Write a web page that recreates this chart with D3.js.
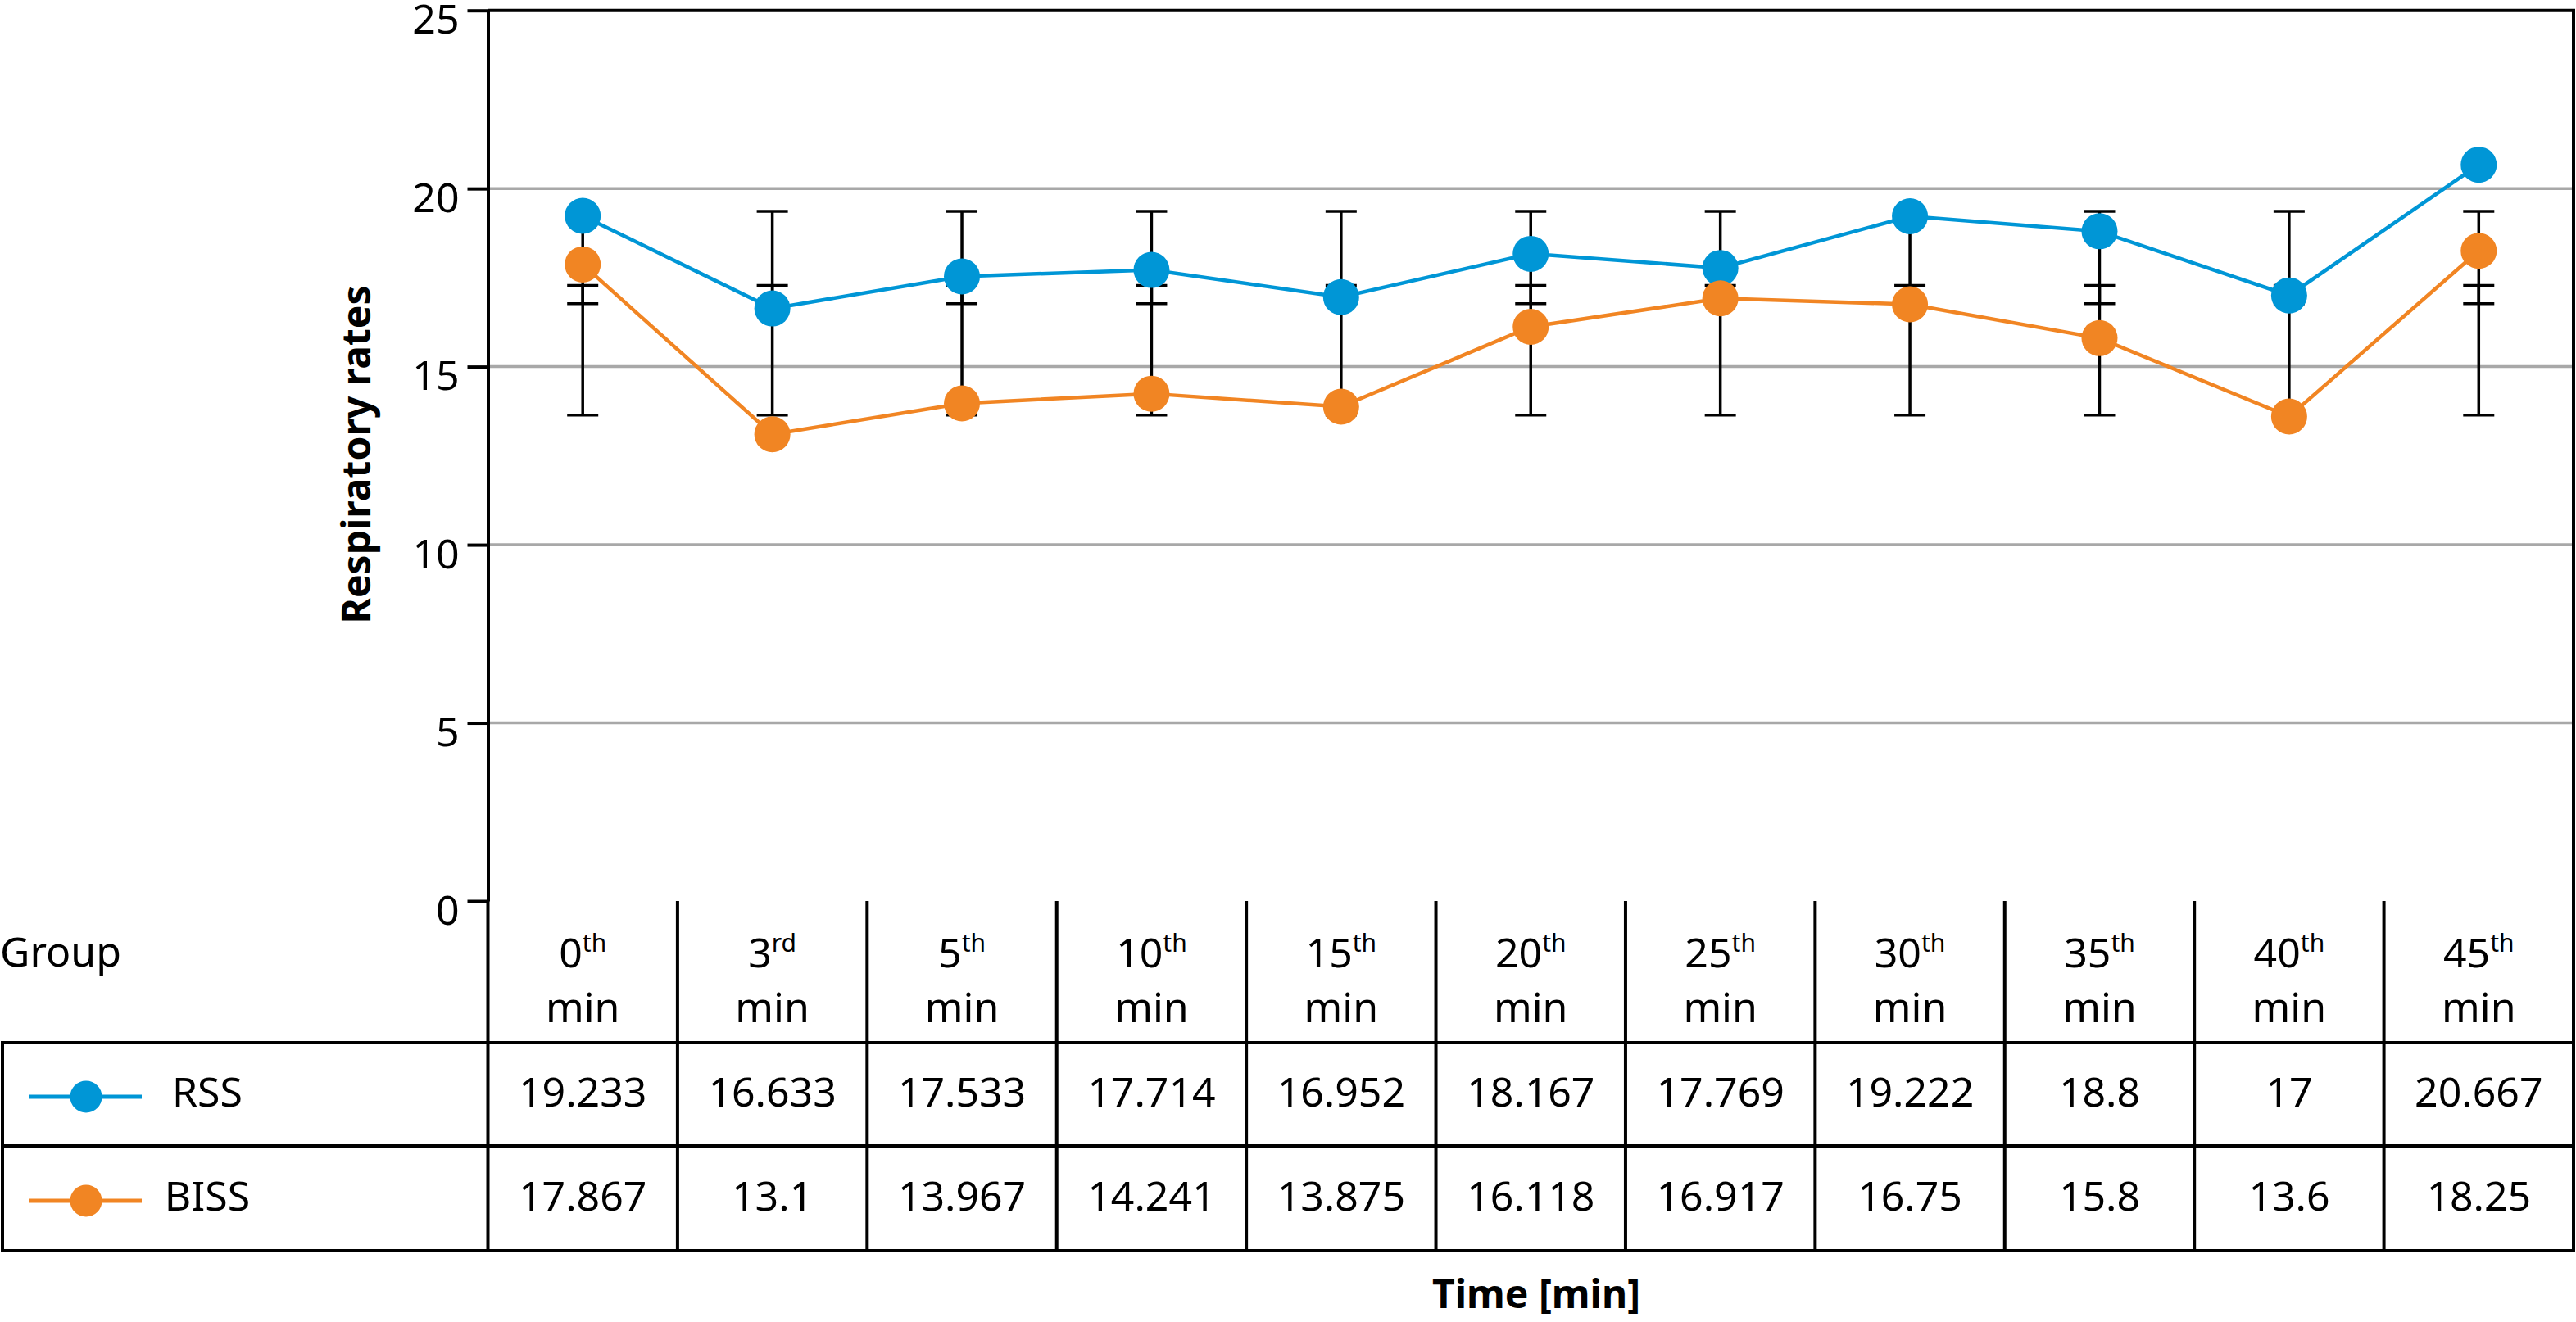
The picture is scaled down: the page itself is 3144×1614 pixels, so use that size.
<!DOCTYPE html>
<html>
<head>
<meta charset="utf-8">
<script src="https://cdn.jsdelivr.net/npm/d3@7"></script>
<style>
  body { margin: 0; background: #fff; }
  text { font-family: "Noto Sans", sans-serif; fill: #000; }
</style>
</head>
<body>
<svg></svg>
<script>
let width = 3144, height = 1614;

// data
let timeNums = ["0", "3", "5", "10", "15", "20", "25", "30", "35", "40", "45"];
let timeSups = ["th", "rd", "th", "th", "th", "th", "th", "th", "th", "th", "th"];
let rss = [19.233, 16.633, 17.533, 17.714, 16.952, 18.167, 17.769, 19.222, 18.8, 17, 20.667];
let biss = [17.867, 13.1, 13.967, 14.241, 13.875, 16.118, 16.917, 16.75, 15.8, 13.6, 18.25];
let rssErr = [16.77, 19.36];   // error bar low / high (same at every time point)
let bissErr = [13.64, 17.28];
let yTicks = [0, 5, 10, 15, 20, 25];

let series = [
    { name: "RSS", values: rss, err: rssErr, color: "#0096d6" },
    { name: "BISS", values: biss, err: bissErr, color: "#f18523" }
];

let svg = d3.select("svg")
    .attr("width", width)
    .attr("height", height)
    .attr("viewBox", "0 0 " + width + " " + height);

let plotLeft = 595.5, plotRight = 3141, plotTop = 12.7, plotBottom = 1100;
let tableLeft = 3;
let rowLines = [1100, 1273, 1399, 1527];

let x = d3.scaleBand()
    .domain(timeNums)
    .range([plotLeft, plotRight]);
let cx = d => x(d) + x.bandwidth() / 2;

let y = d3.scaleLinear()
    .domain([0, 25])
    .range([plotBottom, plotTop]);

// gridlines
svg.append("g")
    .selectAll("line")
    .data(yTicks.filter(t => t > 0 && t < 25))
    .enter()
    .append("line")
    .attr("x1", plotLeft).attr("x2", plotRight)
    .attr("y1", d => y(d)).attr("y2", d => y(d))
    .attr("stroke", "#a8a8a8")
    .attr("stroke-width", 3.5);

// frame: top and right
svg.append("path")
    .attr("d", "M" + plotLeft + "," + y(25) + "H" + plotRight + "V" + plotBottom)
    .attr("fill", "none")
    .attr("stroke", "#000")
    .attr("stroke-width", 4);

// y axis
let yAxis = svg.append("g")
    .attr("transform", "translate(" + plotLeft + ",0)")
    .call(d3.axisLeft(y).tickValues(yTicks).tickSize(25).tickSizeOuter(0).tickPadding(10));
yAxis.select(".domain").attr("stroke", "#000").attr("stroke-width", 4);
yAxis.selectAll(".tick line").attr("stroke", "#000").attr("stroke-width", 4);
yAxis.selectAll(".tick text")
    .attr("font-size", 50)
    .attr("font-family", "'Noto Sans', sans-serif")
    .attr("dy", "0.56em");

svg.append("text")
    .attr("transform", "translate(452," + 555 + ") rotate(-90)")
    .attr("text-anchor", "middle")
    .attr("font-size", 48)
    .attr("font-weight", "bold")
    .text("Respiratory rates");

// error bars
let capW = 19;
series.forEach(s => {
    let g = svg.append("g").attr("class", "err");
    g.selectAll("line.v")
        .data(timeNums)
        .enter()
        .append("line")
        .attr("x1", d => cx(d)).attr("x2", d => cx(d))
        .attr("y1", y(s.err[0])).attr("y2", y(s.err[1]))
        .attr("stroke", "#000").attr("stroke-width", 3.5);
    s.err.forEach(v => {
        g.selectAll(null)
            .data(timeNums)
            .enter()
            .append("line")
            .attr("x1", d => cx(d) - capW).attr("x2", d => cx(d) + capW)
            .attr("y1", y(v)).attr("y2", y(v))
            .attr("stroke", "#000").attr("stroke-width", 3.5);
    });
});

// lines and markers
let line = d3.line()
    .x((d, i) => cx(timeNums[i]))
    .y(d => y(d));

series.forEach(s => {
    svg.append("path")
        .datum(s.values)
        .attr("d", line)
        .attr("fill", "none")
        .attr("stroke", s.color)
        .attr("stroke-width", 4.5);
});
series.forEach(s => {
    svg.append("g")
        .selectAll("circle")
        .data(s.values)
        .enter()
        .append("circle")
        .attr("cx", (d, i) => cx(timeNums[i]))
        .attr("cy", d => y(d))
        .attr("r", 22)
        .attr("fill", s.color);
});

// data table
let table = svg.append("g");
let bounds = timeNums.map(t => x(t)).concat([plotRight]);

// header verticals
table.selectAll("line.hv")
    .data(bounds)
    .enter()
    .append("line")
    .attr("x1", d => d).attr("x2", d => d)
    .attr("y1", rowLines[0]).attr("y2", rowLines[1])
    .attr("stroke", "#000").attr("stroke-width", 4);

// body verticals
table.selectAll("line.bv")
    .data([tableLeft].concat(bounds))
    .enter()
    .append("line")
    .attr("x1", d => d).attr("x2", d => d)
    .attr("y1", rowLines[1]).attr("y2", rowLines[3])
    .attr("stroke", "#000").attr("stroke-width", 4);

// horizontals
table.selectAll("line.h")
    .data(rowLines.slice(1))
    .enter()
    .append("line")
    .attr("x1", tableLeft - 2).attr("x2", plotRight + 2)
    .attr("y1", d => d).attr("y2", d => d)
    .attr("stroke", "#000").attr("stroke-width", 4);

table.append("text")
    .attr("x", 0)
    .attr("y", 1180)
    .attr("font-size", 50)
    .text("Group");

// column headers
let head = table.selectAll("g.head")
    .data(timeNums)
    .enter()
    .append("g");
let headTop = head.append("text")
    .attr("x", d => cx(d))
    .attr("y", 1181)
    .attr("text-anchor", "middle")
    .attr("font-size", 50);
headTop.append("tspan").text(d => d);
headTop.append("tspan")
    .attr("font-size", 30)
    .attr("dy", -19)
    .text((d, i) => timeSups[i]);
head.append("text")
    .attr("x", d => cx(d))
    .attr("y", 1248)
    .attr("text-anchor", "middle")
    .attr("font-size", 50)
    .text("min");

// rows
series.forEach((s, r) => {
    let mid = (rowLines[r + 1] + rowLines[r + 2]) / 2;
    table.append("line")
        .attr("x1", 36).attr("x2", 173)
        .attr("y1", mid + 3).attr("y2", mid + 3)
        .attr("stroke", s.color).attr("stroke-width", 5);
    table.append("circle")
        .attr("cx", 105).attr("cy", mid + 3)
        .attr("r", 19.5)
        .attr("fill", s.color);
    table.append("text")
        .attr("x", 253)
        .attr("y", mid + 15)
        .attr("text-anchor", "middle")
        .attr("font-size", 50)
        .text(s.name);
    table.selectAll(null)
        .data(s.values)
        .enter()
        .append("text")
        .attr("x", (d, i) => cx(timeNums[i]))
        .attr("y", mid + 15)
        .attr("text-anchor", "middle")
        .attr("font-size", 50)
        .text(d => d);
});

svg.append("text")
    .attr("x", 1875)
    .attr("y", 1597)
    .attr("text-anchor", "middle")
    .attr("font-size", 48)
    .attr("font-weight", "bold")
    .text("Time [min]");
</script>
</body>
</html>
